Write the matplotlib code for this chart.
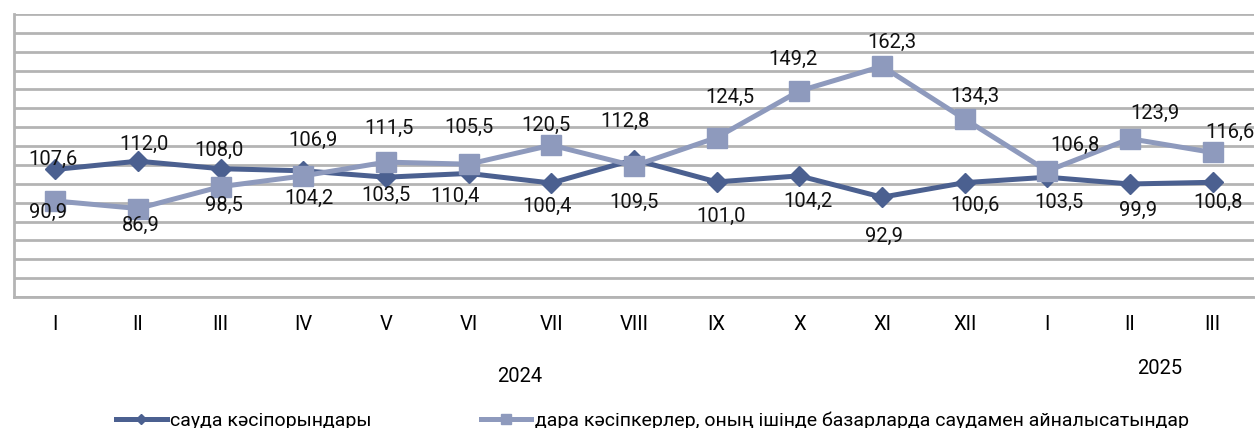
import matplotlib.pyplot as plt
import numpy as np

plt.rcParams['font.family'] = ['Roboto', 'DejaVu Sans']

months = ['I', 'II', 'III', 'IV', 'V', 'VI', 'VII', 'VIII', 'IX', 'X', 'XI', 'XII', 'I', 'II', 'III']
years = ['2024', '2025']

# сауда кәсіпорындары
trade = [107.6, 112.0, 108.0, 106.9, 103.5, 105.5, 100.4, 112.8, 101.0, 104.2, 92.9, 100.6, 103.5, 99.9, 100.8]
# дара кәсіпкерлер
indiv = [90.9, 86.9, 98.5, 104.2, 111.5, 110.4, 120.5, 109.5, 124.5, 149.2, 162.3, 134.3, 106.8, 123.9, 116.6]

names = ['сауда кәсіпорындары',
         'дара кәсіпкерлер, оның ішінде базарларда саудамен айналысатындар']

# label offsets in pixels (dx, dy), dy positive = down
trade_off = [(-2, 10), (6, 17), (-2, 18), (10, 30), (0, -18), (0, 46), (-4, -23), (-9, 38),
             (4, -34), (9, -26), (2, -39), (10, -23), (12, -25), (8, -26), (5, -20)]
indiv_off = [(-7, -11), (3, -17), (3, -19), (6, -23), (3, 34), (-14, -32), (-5, 20), (0, -37),
             (13, 40), (-6, 32), (10, 24), (10, 23), (28, 26), (25, 25), (17, 20)]

c_dark = '#4b6090'
c_light = '#8e9abd'
fs = 14.5

fig = plt.figure(figsize=(12.55, 4.28), dpi=100)
ax = fig.add_axes([14 / 1255, 1 - 297 / 428, 1240 / 1255, 283 / 428])

x = np.arange(len(months))
l1, = ax.plot(x, trade, color=c_dark, lw=3.6, marker='D', ms=10, zorder=3)
l2, = ax.plot(x, indiv, color=c_light, lw=3.6, marker='s', ms=14, zorder=4)

for xi, v, (dx, dy) in zip(x, trade, trade_off):
    ax.annotate(f'{v:.1f}'.replace('.', ','), (xi, v), xytext=(dx, dy), textcoords='offset pixels',
                ha='center', va='center', fontsize=fs, color='#111111', zorder=5)
for xi, v, (dx, dy) in zip(x, indiv, indiv_off):
    ax.annotate(f'{v:.1f}'.replace('.', ','), (xi, v), xytext=(dx, dy), textcoords='offset pixels',
                ha='center', va='center', fontsize=fs, color='#111111', zorder=5)

ax.set_xlim(-0.5, len(months) - 0.5)
ax.set_ylim(40, 190)
ax.set_yticks(np.arange(40, 191, 10))
ax.set_yticklabels([])
ax.tick_params(axis='y', length=0)
ax.grid(axis='y', color='#b4b4b4', lw=2)
ax.set_axisbelow(True)
ax.set_xticks(x)
ax.set_xticklabels(months, fontsize=fs)
ax.tick_params(axis='x', length=0, pad=13)
for s in ['top', 'right']:
    ax.spines[s].set_visible(False)
ax.spines['left'].set_color('#b4b4b4')
ax.spines['left'].set_linewidth(2)
ax.spines['bottom'].set_color('#b4b4b4')
ax.spines['bottom'].set_linewidth(2)

fig.text(520 / 1255, 1 - 376 / 428, years[0], ha='center', va='center', fontsize=fs)
fig.text(1160 / 1255, 1 - 369 / 428, years[1], ha='center', va='center', fontsize=fs)

fig.legend([l1, l2], names, loc='center', bbox_to_anchor=(0.52, 0.018), ncol=2, frameon=False,
           fontsize=14, handlelength=2.6, columnspacing=5.6, handletextpad=0.2, markerscale=0.55)

fig.savefig('out.png', dpi=100)
